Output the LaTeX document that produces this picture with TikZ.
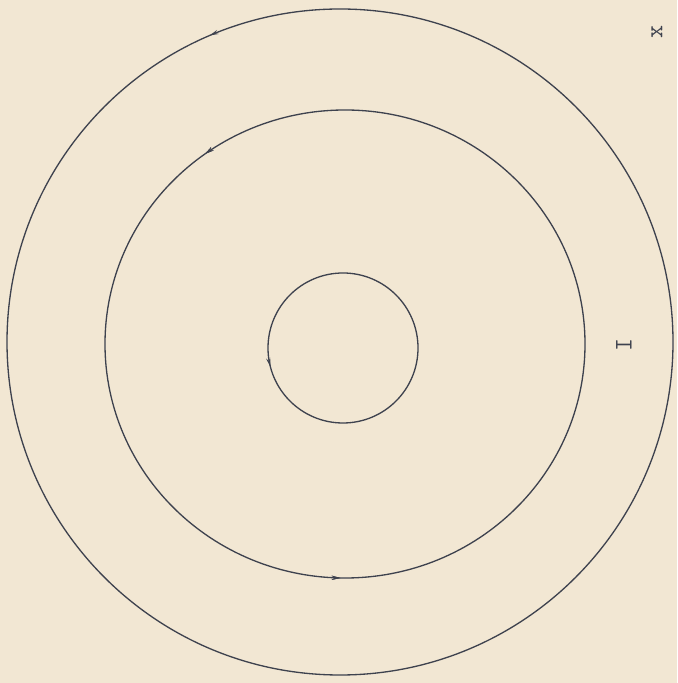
\documentclass[tikz,border=0pt]{standalone}
\usepackage{xcolor}
\usepackage{tikz}
\usetikzlibrary{arrows.meta, decorations.markings}
\definecolor{paper}{RGB}{242,231,211}
\definecolor{ink}{RGB}{62,66,78}

\begin{document}
\begin{tikzpicture}[x=0.02cm, y=0.02cm, >=Stealth,
    orbit/.style ={draw=ink, line width=0.75pt},
    tip/.style   ={postaction={decorate}, decoration={markings,
                   mark=at position #1 with {\arrow{Stealth[length=5pt, width=2.4pt]}}}},
    lbl/.style   ={font=\ttfamily\Large, text=ink, rotate=90, inner sep=1pt}]
    % paper
    \fill[paper] (0,0) rectangle (677,683);
    \useasboundingbox (0,0) rectangle (677,683);
    % centres
    \coordinate (cin)  at (343,335);
    \coordinate (cmid) at (345,339);
    \coordinate (cout) at (340,341);
    % orbits
    \draw[orbit, tip=0.54] (cin) circle (75);
    \draw[orbit, tip=0.35, postaction={decorate}, decoration={markings,
          mark=at position 0.747 with {\arrow{Stealth[length=5pt, width=2.4pt]}}}] (cmid) ellipse (240 and 234);
    \draw[orbit, tip=0.314] (cout) circle (333);
    % labels
    \node[lbl] (one) at (624,338) {I};
    \node[lbl] (ax)  at (657,651) {x};
\end{tikzpicture}
\end{document}
